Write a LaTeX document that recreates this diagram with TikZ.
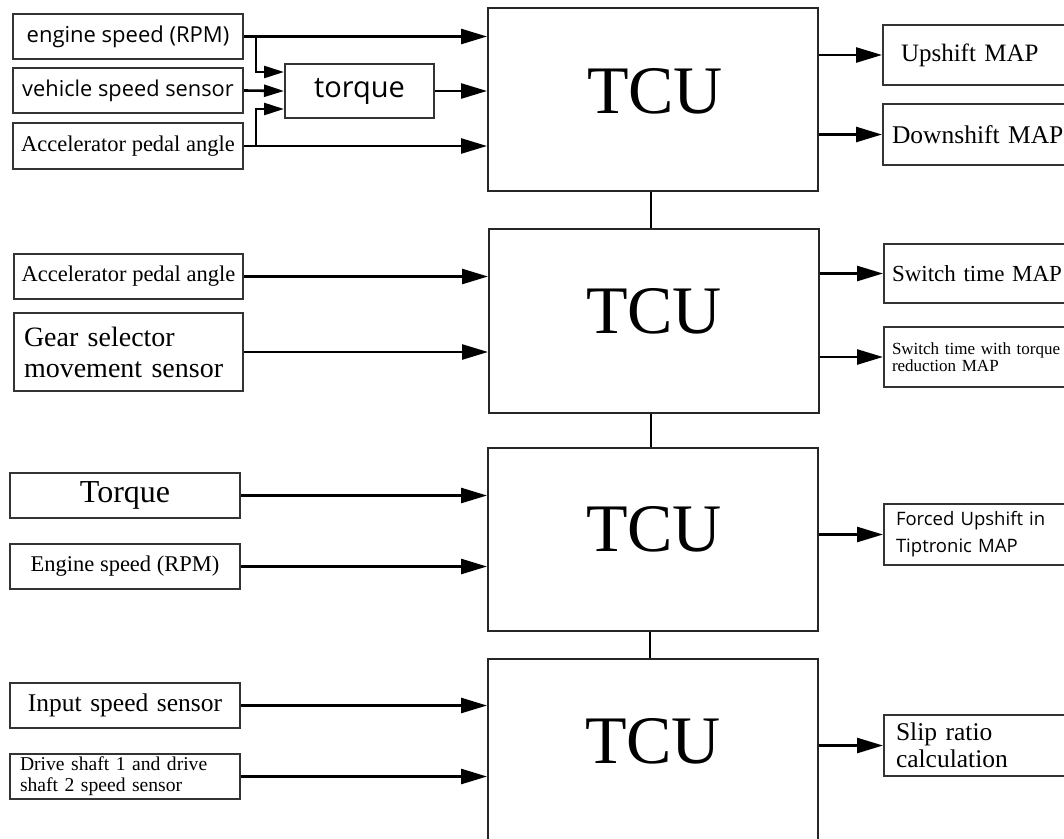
\documentclass[tikz,border=0pt]{standalone}
\usepackage{fontspec}
\setmainfont{Liberation Serif}
\newfontfamily\sansf{Open Sans}
\usetikzlibrary{arrows.meta,calc}
\tikzset{
  box/.style={draw=black!80, line width=2pt, rectangle, inner sep=0pt, anchor=north west},
  tcubox/.style={draw=black!85, line width=2pt, rectangle, inner sep=0pt, anchor=north west},
  tcutext/.style={inner sep=0pt, font=\fontsize{68}{70}\selectfont},
  arr/.style={line width=2.6pt, -{Triangle[length=26pt,width=15pt]}},
  arrs/.style={line width=2.6pt, -{Triangle[length=20pt,width=12pt]}},
  link/.style={line width=2.6pt},
  fs/.style={font=\fontsize{#1}{#1}\selectfont},
}
\begin{document}
\begin{tikzpicture}[x=1pt,y=-1pt]
\useasboundingbox (0,0) rectangle (1064,838);
\fill[white] (0,0) rectangle (1064,838);
\clip (0,0) rectangle (1064,838);
% TCU boxes
\node[tcubox, minimum width=330pt, minimum height=183pt] (tcu1) at (487,7) {};
\node[tcubox, minimum width=330pt, minimum height=184pt] (tcu2) at (488,228) {};
\node[tcubox, minimum width=330pt, minimum height=183pt] (tcu3) at (487,447) {};
\node[tcubox, minimum width=330pt, minimum height=240pt] (tcu4) at (487,658) {};
\node[tcutext] (t1) at (655,91.5) {TCU};
\node[tcutext] (t2) at (654,311.5) {TCU};
\node[tcutext] (t3) at (654,529) {TCU};
\node[tcutext] (t4) at (653,741) {TCU};
\draw[link] (tcu1.south -| 651,0) -- (tcu2.north -| 651,0);
\draw[link] (tcu2.south -| 651,0) -- (tcu3.north -| 651,0);
\draw[link] (tcu3.south -| 650,0) -- (tcu4.north -| 650,0);

% group 1 inputs
\node[box, minimum width=230pt, minimum height=45pt, font=\sansf\fontsize{22}{24}\selectfont] (e1) at (12,13) {engine speed (RPM)};
\node[box, minimum width=230pt, minimum height=45pt, font=\sansf\fontsize{21.8}{24}\selectfont] (v1) at (12,67) {vehicle speed sensor};
\node[box, minimum width=230pt, minimum height=46pt, fs=22.5] (a1) at (12,122) {Accelerator pedal angle};
\node[box, minimum width=149pt, minimum height=54pt, font=\sansf\fontsize{29}{31}\selectfont] (tq) at (284,63) {torque};
\coordinate (j1) at ($(e1.east)+(12,0)$);
\coordinate (j2) at ($(a1.east)+(12,0)$);
\draw[arr] (e1.east) -- (e1.east -| tcu1.west);
\draw[arr] (a1.east) -- (a1.east -| tcu1.west);
\draw[arrs] (j1) |- ([yshift=19pt]tq.west);
\draw[arrs] (j2) |- ([yshift=-18pt]tq.west);
\draw[arrs] (v1.east) -- (tq.west);
\draw[arr] (tq.east) -- (tq.east -| tcu1.west);
% group 1 outputs
\node[box, minimum width=200pt, minimum height=60pt, text width=164pt, inner xsep=18pt, align=left, fs=25] (up) at (882,24) {Upshift MAP};
\node[box, minimum width=200pt, minimum height=61pt, text width=182pt, inner xsep=9pt, align=left, fs=25.5] (down) at (882,103) {Downshift MAP};
\draw[arr] (up.west -| tcu1.east) -- (up.west);
\draw[arr] (down.west -| tcu1.east) -- (down.west);

% group 2
\node[box, minimum width=229pt, minimum height=45pt, fs=22.5] (a2) at (13,253) {Accelerator pedal angle};
\node[box, minimum width=229pt, minimum height=78pt, text width=209pt, inner xsep=10pt, align=left, font=\fontsize{28}{31}\selectfont] (gs) at (13,312) {Gear selector\\movement sensor};
\draw[arr] (a2.east) -- (a2.east -| tcu2.west);
\draw[arr] (gs.east) -- (gs.east -| tcu2.west);
\node[box, minimum width=200pt, minimum height=59pt, text width=184pt, inner xsep=8pt, align=left, fs=23] (sw) at (883,243) {Switch time MAP};
\node[box, minimum width=200pt, minimum height=60pt, text width=184pt, inner xsep=8pt, align=left, font=\fontsize{17}{17.5}\selectfont] (swr) at (883,326) {Switch time with torque\\reduction MAP};
\draw[arr] (sw.west -| tcu2.east) -- (sw.west);
\draw[arr] (swr.west -| tcu2.east) -- (swr.west);

% group 3
\node[box, minimum width=230pt, minimum height=45pt, fs=32] (tq2) at (9,472) {Torque};
\node[box, minimum width=230pt, minimum height=45pt, fs=22.5] (e2) at (9,543) {Engine speed (RPM)};
\draw[arr] (tq2.east) -- (tq2.east -| tcu3.west);
\draw[arr] (e2.east) -- (e2.east -| tcu3.west);
\node[box, minimum width=200pt, minimum height=61pt, text width=176pt, inner xsep=12pt, align=left, font=\sansf\fontsize{18.5}{27}\selectfont] (fu) at (883,503) {Forced Upshift in\\Tiptronic MAP};
\draw[arr] (fu.west -| tcu3.east) -- (fu.west);

% group 4
\node[box, minimum width=230pt, minimum height=45pt, text width=216pt, inner xsep=7pt, align=center, fs=25.5] (is) at (9,682) {Input speed sensor};
\node[box, minimum width=230pt, minimum height=45pt, text width=210pt, inner xsep=10pt, align=left, font=\fontsize{19.6}{21}\selectfont] (ds) at (9,753) {Drive shaft 1 and drive\\shaft 2 speed sensor};
\draw[arr] (is.east) -- (is.east -| tcu4.west);
\draw[arr] (ds.east) -- (ds.east -| tcu4.west);
\node[box, minimum width=200pt, minimum height=61pt, text width=176pt, inner xsep=12pt, align=left, font=\fontsize{25.5}{27}\selectfont] (sr) at (883,714) {Slip ratio\\calculation};
\draw[arr] (sr.west -| tcu4.east) -- (sr.west);
\end{tikzpicture}
\end{document}
